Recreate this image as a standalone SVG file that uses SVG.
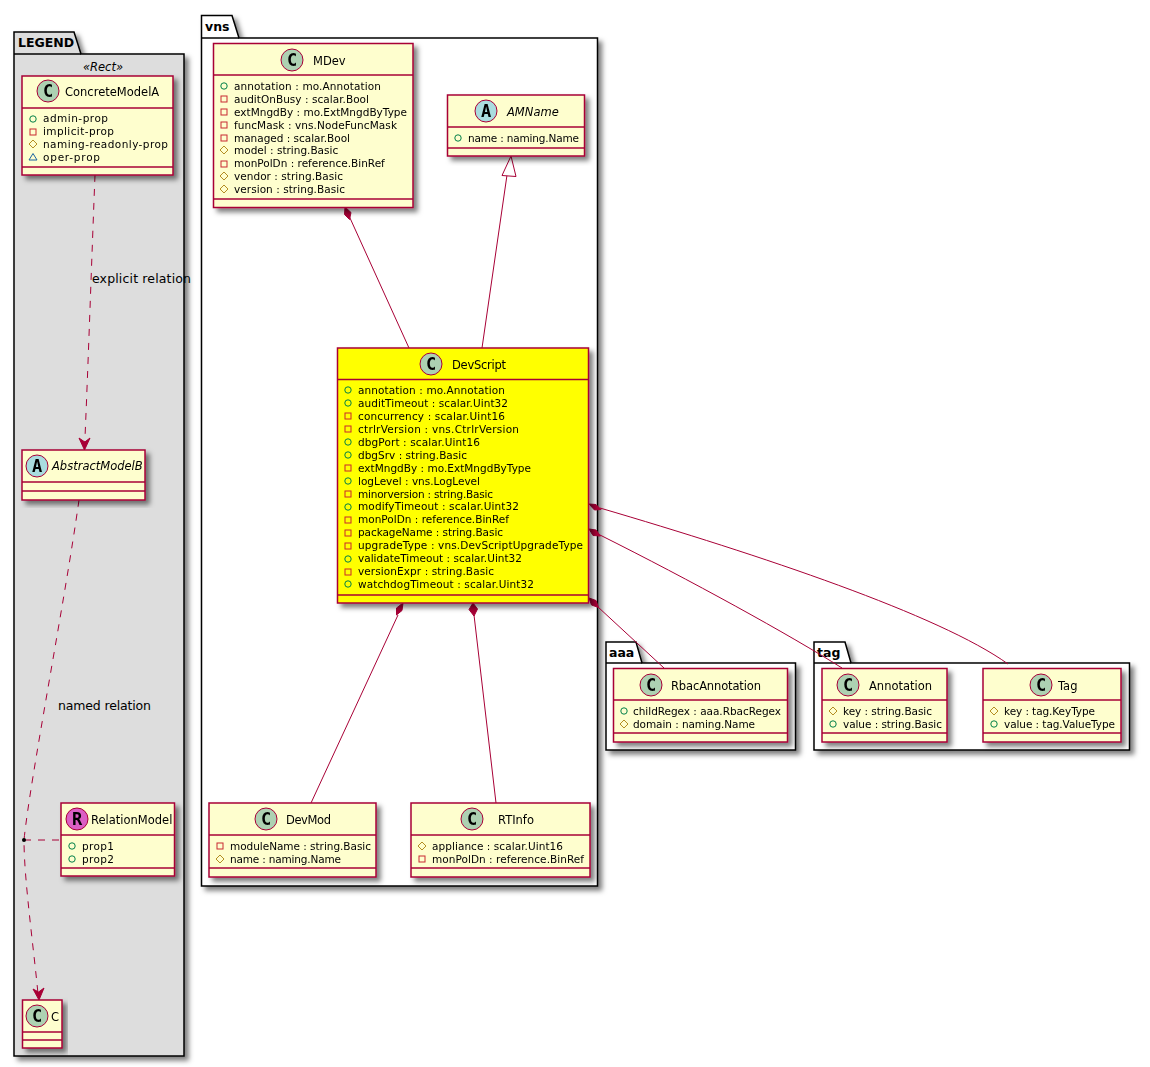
<svg xmlns="http://www.w3.org/2000/svg" width="1150" height="1067" viewBox="0 0 1150 1067">
<style>
text{font-family:"DejaVu Sans",sans-serif;fill:#000}
.pk{fill:#fff;stroke:#000;stroke-width:1.5}
.lg{fill:#ddd;stroke:#000;stroke-width:1.5}
.pt{font-size:12.5px;font-weight:700}
.b{fill:#FEFECE;stroke:#A80036;stroke-width:1.5}
.y{fill:#FF0;stroke:#A80036;stroke-width:1.5}
.s{stroke:#A80036;stroke-width:1.5;fill:none}
.n{font-size:11.5px}
.i{font-style:italic}
.m{font-size:10.5px}
.l{font-size:12.5px}
.cc{fill:#ADD1B2;stroke:#A80036;stroke-width:1}
.ca{fill:#A9DCDF;stroke:#A80036;stroke-width:1}
.cr{fill:#DB5FC4;stroke:#A80036;stroke-width:1}
.g{font-family:"DejaVu Sans Mono",monospace;font-size:17px;font-weight:700;text-anchor:middle}
.pu{fill:none;stroke:#038048;stroke-width:1}
.pr{fill:none;stroke:#C82930;stroke-width:1}
.pd{fill:none;stroke:#B38D22;stroke-width:1}
.pa{fill:none;stroke:#1963A0;stroke-width:1}
.c{fill:none;stroke:#A80036;stroke-width:1}
.d{stroke-dasharray:7,7}
.h{fill:#A80036;stroke:#A80036;stroke-width:1}
.o{fill:#fff;stroke:#A80036;stroke-width:1}
</style>
<defs>
<filter id="sh" x="-10%" y="-10%" width="125%" height="125%"><feDropShadow dx="4" dy="4" stdDeviation="2.5" flood-color="#000" flood-opacity="0.5"/></filter>
<circle id="pub" r="3.2" class="pu"/>
<rect id="pri" x="-3" y="-3" width="6" height="6" class="pr"/>
<path id="pro" d="M0-4L4 0L0 4L-4 0Z" class="pd"/>
<path id="pac" d="M0-3.500L4 3L-4 3Z" class="pa"/>
</defs>

<g id="pkg-legend">
<path class="lg" filter="url(#sh)" d="M14 54V32H74L81 54H184V1056H14Z"/>
<path class="s" style="stroke:#000;stroke-width:1.5" d="M14 54H81"/>
<text class="pt" x="18" y="47">LEGEND</text>
<text class="n i" x="103" y="71" text-anchor="middle">«Rect»</text>
</g>
<g id="pkg-vns">
<path class="pk" filter="url(#sh)" d="M201.500 38V15.500H232L239 38H597.500V886H201.500Z"/>
<path class="s" style="stroke:#000;stroke-width:1.500" d="M201.500 38H239"/>
<text class="pt" x="205" y="31">vns</text>
</g>
<g id="pkg-aaa">
<path class="pk" filter="url(#sh)" d="M606 663V642H636L642 663H795.500V750H606Z"/>
<path class="s" style="stroke:#000;stroke-width:1.500" d="M606 663H642"/>
<text class="pt" x="609" y="657">aaa</text>
</g>
<g id="pkg-tag">
<path class="pk" filter="url(#sh)" d="M814 663V642H845L851 663H1129.500V750H814Z"/>
<path class="s" style="stroke:#000;stroke-width:1.500" d="M814 663H851"/>
<text class="pt" x="817" y="657">tag</text>
</g>

<g id="connectors">
<path class="c d" d="M95 175C92 250 88 370 84.500 449"/>
<path class="h" d="M84.500 450L79 438L84.800 442L90 438Z"/>
<path class="c d" d="M79 500C65 600 30 780 24 840C24 880 34 950 38.500 999"/>
<path class="h" d="M39 1000L33 989L38.600 992L44 988Z"/>
<path class="c d" d="M24 840H61"/>
<circle cx="24" cy="840" r="2" fill="#000"/>
<path class="c" d="M345 207L409 348"/>
<path class="h" d="M345 207L344.500 214.500L349.500 219.500L351 212.500Z"/>
<path class="c" d="M507 175L482 348"/>
<path class="o" d="M511 156L502 175.500L516 176.500Z"/>
<path class="c" d="M398 615L311 803"/>
<path class="h" d="M403 603L396.500 608L396.500 615L402 610.500Z"/>
<path class="c" d="M474 615L496 803"/>
<path class="h" d="M473 603L469 609.500L474 616L477.500 609Z"/>
<path class="c" d="M600 508C760 555 940 615 1008 664"/>
<path class="h" d="M589 504L594.500 510L601 509.500L596 504.500Z"/>
<path class="c" d="M600 535C690 580 790 635 842 668"/>
<path class="h" d="M589 529L593 535.500L600.500 536L596 530Z"/>
<path class="c" d="M598 607L664 668"/>
<path class="h" d="M589 598L591.500 605L598.500 607.500L596 600.500Z"/>
<text class="l" x="92" y="283" textLength="99">explicit relation</text>
<text class="l" x="58" y="710" textLength="93">named relation</text>
</g>

<g id="ConcreteModelA" filter="url(#sh)">
<rect class="b" x="22" y="76" width="151" height="99"/>
<path class="s" d="M22 108H173M22 167H173"/>
<circle class="cc" cx="48" cy="91" r="11"/><text class="g" x="48" y="97">C</text>
<text class="n" x="65" y="96">ConcreteModelA</text>
<use href="#pub" x="33" y="119"/><text class="m" x="43" y="122" textLength="65">admin-prop</text>
<use href="#pri" x="33" y="132"/><text class="m" x="43" y="135" textLength="71">implicit-prop</text>
<use href="#pro" x="33" y="144"/><text class="m" x="43" y="148" textLength="125">naming-readonly-prop</text>
<use href="#pac" x="33" y="157"/><text class="m" x="43" y="161" textLength="57">oper-prop</text>
</g>
<g id="AbstractModelB" filter="url(#sh)">
<rect class="b" x="22" y="450" width="123" height="50"/>
<path class="s" d="M22 482H145M22 491H145"/>
<circle class="ca" cx="37" cy="466" r="11"/><text class="g" x="37" y="472">A</text>
<text class="n i" x="52" y="470">AbstractModelB</text>
</g>
<g id="RelationModel" filter="url(#sh)">
<rect class="b" x="61" y="803" width="113.500" height="73"/>
<path class="s" d="M61 835H174.500M61 868H174.500"/>
<circle class="cr" cx="77" cy="819" r="11"/><text class="g" x="77" y="825">R</text>
<text class="n" x="91" y="824">RelationModel</text>
<use href="#pub" x="72" y="846"/><text class="m" x="82" y="850" textLength="32">prop1</text>
<use href="#pub" x="72" y="859"/><text class="m" x="82" y="863" textLength="32">prop2</text>
</g>
<g id="C" filter="url(#sh)">
<rect class="b" x="22.500" y="1000" width="39.500" height="48"/>
<path class="s" d="M22.500 1032H62M22.500 1040H62"/>
<circle class="cc" cx="37" cy="1016" r="11"/><text class="g" x="37" y="1022">C</text>
<text class="n" x="51" y="1021">C</text>
</g>

<g id="MDev" filter="url(#sh)">
<rect class="b" x="213.500" y="43.500" width="199.500" height="164"/>
<path class="s" d="M213.500 75H413M213.500 199H413"/>
<circle class="cc" cx="292" cy="60" r="11"/><text class="g" x="292" y="66">C</text>
<text class="n" x="313" y="65">MDev</text>
<use href="#pub" x="224" y="86"/><text class="m" x="234" y="90" textLength="147">annotation : mo.Annotation</text>
<use href="#pri" x="224" y="99"/><text class="m" x="234" y="103" textLength="135">auditOnBusy : scalar.Bool</text>
<use href="#pri" x="224" y="112"/><text class="m" x="234" y="116" textLength="173">extMngdBy : mo.ExtMngdByType</text>
<use href="#pri" x="224" y="125"/><text class="m" x="234" y="129" textLength="163">funcMask : vns.NodeFuncMask</text>
<use href="#pri" x="224" y="138"/><text class="m" x="234" y="142" textLength="116">managed : scalar.Bool</text>
<use href="#pro" x="224" y="150"/><text class="m" x="234" y="154">model : string.Basic</text>
<use href="#pri" x="224" y="164"/><text class="m" x="234" y="167">monPolDn : reference.BinRef</text>
<use href="#pro" x="224" y="176"/><text class="m" x="234" y="180" textLength="109">vendor : string.Basic</text>
<use href="#pro" x="224" y="189"/><text class="m" x="234" y="193" textLength="111">version : string.Basic</text>
</g>
<g id="AMName" filter="url(#sh)">
<rect class="b" x="447.500" y="95" width="137" height="61"/>
<path class="s" d="M447.500 127H584.500M447.500 148H584.500"/>
<circle class="ca" cx="486" cy="111" r="11"/><text class="g" x="486" y="117">A</text>
<text class="n i" x="507" y="116">AMName</text>
<use href="#pub" x="458" y="138"/><text class="m" x="468" y="142" textLength="111">name : naming.Name</text>
</g>
<g id="DevScript" filter="url(#sh)">
<rect class="y" x="337.500" y="348" width="251" height="255"/>
<path class="s" d="M337.500 379.500H588.500M337.500 595H588.500"/>
<circle class="cc" cx="431" cy="364" r="11"/><text class="g" x="431" y="370">C</text>
<text class="n" x="452" y="369" textLength="54">DevScript</text>
<use href="#pub" x="348" y="390"/><text class="m" x="358" y="394" textLength="147">annotation : mo.Annotation</text>
<use href="#pub" x="348" y="403"/><text class="m" x="358" y="407" textLength="150">auditTimeout : scalar.Uint32</text>
<use href="#pri" x="348" y="416"/><text class="m" x="358" y="420" textLength="147">concurrency : scalar.Uint16</text>
<use href="#pri" x="348" y="429"/><text class="m" x="358" y="433" textLength="161">ctrlrVersion : vns.CtrlrVersion</text>
<use href="#pub" x="348" y="442"/><text class="m" x="358" y="446" textLength="122">dbgPort : scalar.Uint16</text>
<use href="#pub" x="348" y="455"/><text class="m" x="358" y="459" textLength="109">dbgSrv : string.Basic</text>
<use href="#pri" x="348" y="468"/><text class="m" x="358" y="472" textLength="173">extMngdBy : mo.ExtMngdByType</text>
<use href="#pub" x="348" y="481"/><text class="m" x="358" y="485" textLength="122">logLevel : vns.LogLevel</text>
<use href="#pri" x="348" y="494"/><text class="m" x="358" y="498" textLength="135">minorversion : string.Basic</text>
<use href="#pub" x="348" y="507"/><text class="m" x="358" y="510" textLength="161">modifyTimeout : scalar.Uint32</text>
<use href="#pri" x="348" y="520"/><text class="m" x="358" y="523" textLength="151">monPolDn : reference.BinRef</text>
<use href="#pri" x="348" y="533"/><text class="m" x="358" y="536" textLength="145">packageName : string.Basic</text>
<use href="#pri" x="348" y="546"/><text class="m" x="358" y="549" textLength="225">upgradeType : vns.DevScriptUpgradeType</text>
<use href="#pub" x="348" y="559"/><text class="m" x="358" y="562" textLength="164">validateTimeout : scalar.Uint32</text>
<use href="#pri" x="348" y="572"/><text class="m" x="358" y="575" textLength="136">versionExpr : string.Basic</text>
<use href="#pub" x="348" y="584"/><text class="m" x="358" y="588" textLength="176">watchdogTimeout : scalar.Uint32</text>
</g>
<g id="DevMod" filter="url(#sh)">
<rect class="b" x="209" y="803" width="167" height="74"/>
<path class="s" d="M209 835H376M209 868H376"/>
<circle class="cc" cx="266" cy="819" r="11"/><text class="g" x="266" y="825">C</text>
<text class="n" x="286" y="824" textLength="45">DevMod</text>
<use href="#pri" x="220" y="846"/><text class="m" x="230" y="850" textLength="141">moduleName : string.Basic</text>
<use href="#pro" x="220" y="859"/><text class="m" x="230" y="863" textLength="111">name : naming.Name</text>
</g>
<g id="RTInfo" filter="url(#sh)">
<rect class="b" x="411" y="803" width="179" height="74"/>
<path class="s" d="M411 835H590M411 868H590"/>
<circle class="cc" cx="472" cy="819" r="11"/><text class="g" x="472" y="825">C</text>
<text class="n" x="498" y="824">RTInfo</text>
<use href="#pro" x="422" y="846"/><text class="m" x="432" y="850" textLength="131">appliance : scalar.Uint16</text>
<use href="#pri" x="422" y="859"/><text class="m" x="432" y="863" textLength="152">monPolDn : reference.BinRef</text>
</g>
<g id="RbacAnnotation" filter="url(#sh)">
<rect class="b" x="613.500" y="668.500" width="174" height="73.500"/>
<path class="s" d="M613.500 700H787.500M613.500 733H787.500"/>
<circle class="cc" cx="651" cy="685" r="11"/><text class="g" x="651" y="691">C</text>
<text class="n" x="671" y="690" textLength="90">RbacAnnotation</text>
<use href="#pub" x="624" y="711"/><text class="m" x="633" y="715" textLength="148">childRegex : aaa.RbacRegex</text>
<use href="#pro" x="624" y="724"/><text class="m" x="633" y="728" textLength="122">domain : naming.Name</text>
</g>
<g id="Annotation" filter="url(#sh)">
<rect class="b" x="822" y="668.500" width="125" height="73.500"/>
<path class="s" d="M822 700H947M822 733H947"/>
<circle class="cc" cx="848" cy="685" r="11"/><text class="g" x="848" y="691">C</text>
<text class="n" x="869" y="690">Annotation</text>
<use href="#pro" x="833" y="711"/><text class="m" x="843" y="715" textLength="89">key : string.Basic</text>
<use href="#pub" x="833" y="724"/><text class="m" x="843" y="728" textLength="99">value : string.Basic</text>
</g>
<g id="Tag" filter="url(#sh)">
<rect class="b" x="983" y="668.500" width="138" height="73.500"/>
<path class="s" d="M983 700H1121M983 733H1121"/>
<circle class="cc" cx="1041" cy="685" r="11"/><text class="g" x="1041" y="691">C</text>
<text class="n" x="1058" y="690">Tag</text>
<use href="#pro" x="994" y="711"/><text class="m" x="1004" y="715" textLength="91">key : tag.KeyType</text>
<use href="#pub" x="994" y="724"/><text class="m" x="1004" y="728" textLength="111">value : tag.ValueType</text>
</g>
</svg>
